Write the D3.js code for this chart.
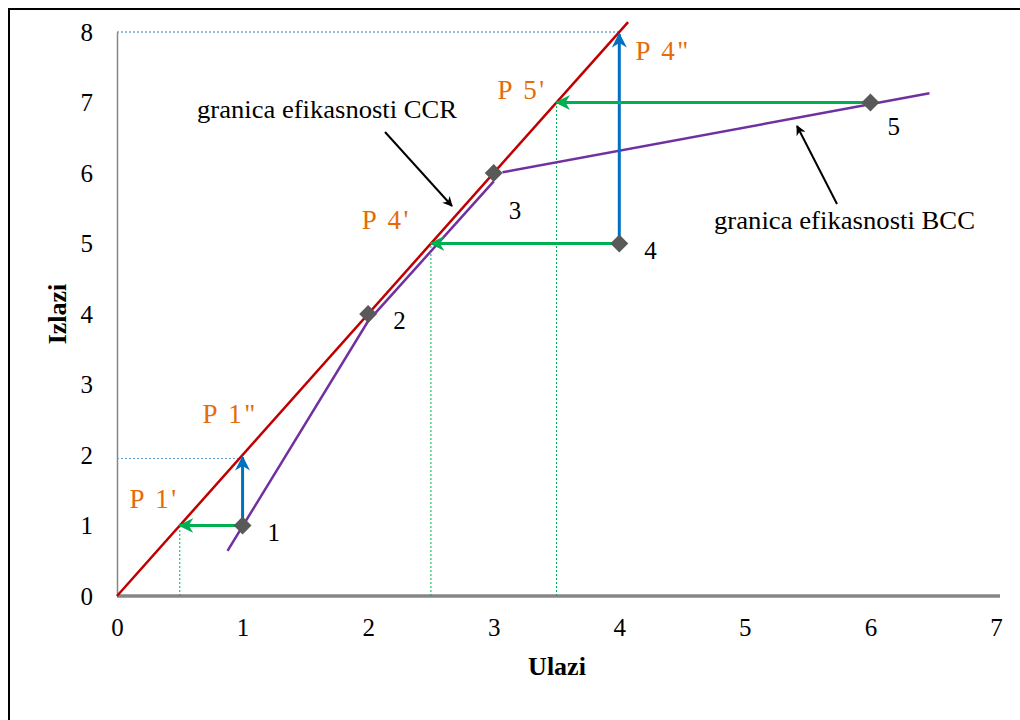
<!DOCTYPE html>
<html>
<head>
<meta charset="utf-8">
<script src="https://cdn.jsdelivr.net/npm/d3@7"></script>
<style>
  body { margin: 0; background: #fff; }
  svg { display: block; font-family: "Liberation Serif", "Times New Roman", serif; }
</style>
</head>
<body>
<svg id="chart" width="1020" height="720"></svg>
<script>
// DMU points
const dmuLabels = ["1", "2", "3", "4", "5"];
const dmuX = [1, 2, 3, 4, 6];
const dmuY = [1, 4, 6, 5, 7];

// CCR frontier (constant returns)
const ccrX = [0, 4.07];
const ccrY = [0, 8.14];

// BCC frontier (two pieces)
const bccX1 = [0.88, 2.0, 3.0];
const bccY1 = [0.64, 3.9, 5.88];
const bccX2 = [3.07, 6.47];
const bccY2 = [6.01, 7.13];

// projection arrows: from DMU to target
const arrowFromX = [1, 1, 4, 4, 6];
const arrowFromY = [1, 1, 5, 5, 7];
const arrowToX = [0.5, 1, 2.5, 4, 3.5];
const arrowToY = [1, 1.97, 5, 7.97, 7];
const arrowColor = ["#00b050", "#0070c0", "#00b050", "#0070c0", "#00b050"];

// projection point labels
const projLabels = ["P 1'", "P 1\"", "P 4'", "P 5'", "P 4\""];
const projX = [0.1, 0.68, 1.95, 3.03, 4.13];
const projY = [1.25, 2.45, 5.2, 7.05, 7.6];

const xTicks = [0, 1, 2, 3, 4, 5, 6, 7];
const yTicks = [0, 1, 2, 3, 4, 5, 6, 7, 8];

const svg = d3.select("#chart");
const x = d3.scaleLinear().domain([0, 7]).range([117, 996]);
const y = d3.scaleLinear().domain([0, 8]).range([596, 32]);

// outer frame
svg.append("rect")
  .attr("x", 9).attr("y", 9)
  .attr("width", 1030).attr("height", 730)
  .attr("fill", "none").attr("stroke", "#000").attr("stroke-width", 2);

const defs = svg.append("defs");
function marker(id, color) {
  defs.append("marker")
    .attr("id", id)
    .attr("viewBox", "0 0 10 10")
    .attr("refX", 9).attr("refY", 5)
    .attr("markerWidth", 5).attr("markerHeight", 5)
    .attr("markerUnits", "strokeWidth")
    .attr("orient", "auto")
    .append("path")
    .attr("d", "M0,0 L10,5 L0,10 L3,5 Z")
    .attr("fill", color);
}
marker("arr-green", "#00b050");
marker("arr-blue", "#0070c0");
marker("arr-black", "#000");

// y axis
const yAxis = d3.axisLeft(y).tickValues(yTicks).tickFormat(d3.format("d")).tickSize(0).tickPadding(24);
const gy = svg.append("g").attr("transform", `translate(${x(0)},0)`).call(yAxis);
gy.select(".domain").attr("stroke", "#868686").attr("stroke-width", 1.5);
gy.selectAll("text").attr("font-size", 25).attr("font-family", "Liberation Serif").attr("fill", "#000");

// x axis
const xAxis = d3.axisBottom(x).tickValues(xTicks).tickFormat(d3.format("d")).tickSize(0).tickPadding(22);
const gx = svg.append("g").attr("transform", `translate(0,${y(0)})`).call(xAxis);
gx.select(".domain").attr("stroke", "#868686").attr("stroke-width", 3.5).attr("d", `M${x(0)},0H${x(7) + 4}`);
gx.selectAll("text").attr("font-size", 25).attr("font-family", "Liberation Serif").attr("fill", "#000");

// axis titles
svg.append("text").attr("x", 557).attr("y", 675)
  .attr("text-anchor", "middle").attr("font-size", 26).attr("font-weight", "bold")
  .text("Ulazi");
svg.append("text").attr("transform", `translate(66,314) rotate(-90)`)
  .attr("text-anchor", "middle").attr("font-size", 26).attr("font-weight", "bold")
  .text("Izlazi");

// dotted guides
const guides = [
  { x1: 0, y1: 1.95, x2: 1, y2: 1.95, c: "#5b9bd5" },
  { x1: 0, y1: 8, x2: 4, y2: 8, c: "#2e75b6" },
  { x1: 0.5, y1: 0, x2: 0.5, y2: 1, c: "#00b050" },
  { x1: 2.5, y1: 0, x2: 2.5, y2: 5, c: "#00b050" },
  { x1: 3.5, y1: 0, x2: 3.5, y2: 7, c: "#00b050" }
];
svg.selectAll(".guide").data(guides).enter().append("line")
  .attr("x1", d => x(d.x1)).attr("y1", d => y(d.y1))
  .attr("x2", d => x(d.x2)).attr("y2", d => y(d.y2))
  .attr("stroke", d => d.c).attr("stroke-width", 1)
  .attr("stroke-dasharray", "2,2");

const line = d3.line().x(d => x(d[0])).y(d => y(d[1]));

// BCC frontier
svg.append("path").datum(d3.zip(bccX1, bccY1))
  .attr("d", line).attr("fill", "none").attr("stroke", "#7030a0").attr("stroke-width", 2.5);
svg.append("path").datum(d3.zip(bccX2, bccY2))
  .attr("d", line).attr("fill", "none").attr("stroke", "#7030a0").attr("stroke-width", 2.5);

// CCR frontier
svg.append("path").datum(d3.zip(ccrX, ccrY))
  .attr("d", line).attr("fill", "none").attr("stroke", "#c00000").attr("stroke-width", 2.5);

// projection arrows
const arrows = d3.range(arrowFromX.length).map(i => ({
  x1: arrowFromX[i], y1: arrowFromY[i], x2: arrowToX[i], y2: arrowToY[i], c: arrowColor[i]
}));
svg.selectAll(".proj").data(arrows).enter().append("line")
  .attr("x1", d => x(d.x1)).attr("y1", d => y(d.y1))
  .attr("x2", d => x(d.x2)).attr("y2", d => y(d.y2))
  .attr("stroke", d => d.c).attr("stroke-width", 3)
  .attr("marker-end", d => d.c === "#00b050" ? "url(#arr-green)" : "url(#arr-blue)");

// DMU markers
const pts = d3.range(dmuX.length).map(i => ({ x: dmuX[i], y: dmuY[i], l: dmuLabels[i] }));
svg.selectAll(".dmu").data(pts).enter().append("path")
  .attr("d", d3.symbol().type(d3.symbolSquare).size(160))
  .attr("transform", d => `translate(${x(d.x)},${y(d.y)}) rotate(45)`)
  .attr("fill", "#595959");
svg.selectAll(".dmu-label").data(pts).enter().append("text")
  .attr("x", d => x(d.x) + (d.l === "3" ? 15 : d.l === "5" ? 17 : 25))
  .attr("y", d => y(d.y) + (d.l === "3" ? 46 : d.l === "5" ? 32 : 15))
  .attr("font-size", 25)
  .text(d => d.l);

// projection labels
svg.selectAll(".proj-label").data(d3.range(projLabels.length)).enter().append("text")
  .attr("x", i => x(projX[i])).attr("y", i => y(projY[i]))
  .attr("font-size", 27).attr("letter-spacing", 2.5).attr("fill", "#e36c09")
  .text(i => projLabels[i]);

// annotations
svg.append("text").attr("x", 197).attr("y", 118).attr("font-size", 26)
  .attr("textLength", 260).attr("lengthAdjust", "spacingAndGlyphs")
  .text("granica efikasnosti CCR");
svg.append("line").attr("x1", 385).attr("y1", 132).attr("x2", 452).attr("y2", 206)
  .attr("stroke", "#000").attr("stroke-width", 2).attr("marker-end", "url(#arr-black)");
svg.append("text").attr("x", 714).attr("y", 229).attr("font-size", 26)
  .attr("textLength", 261).attr("lengthAdjust", "spacingAndGlyphs")
  .text("granica efikasnosti BCC");
svg.append("line").attr("x1", 837).attr("y1", 204).attr("x2", 797).attr("y2", 126)
  .attr("stroke", "#000").attr("stroke-width", 2).attr("marker-end", "url(#arr-black)");
</script>
</body>
</html>
